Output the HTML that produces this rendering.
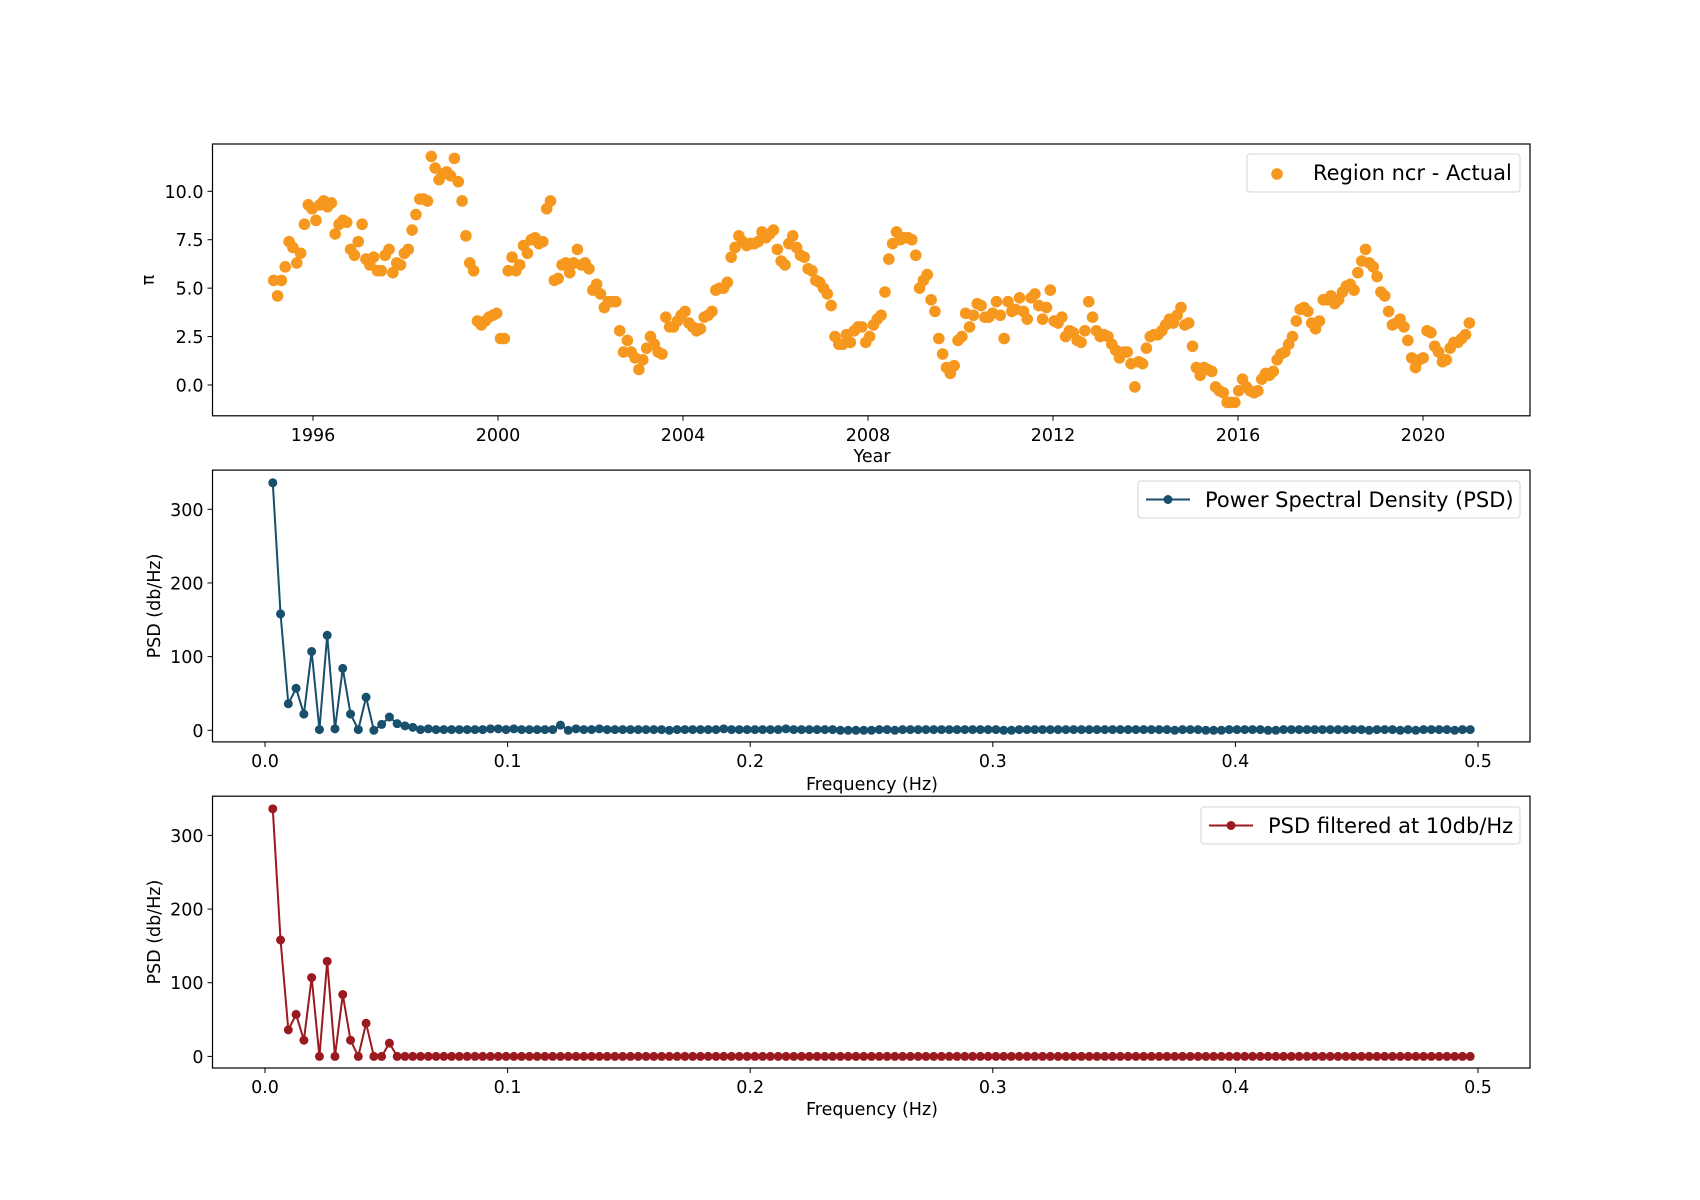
<!DOCTYPE html>
<html><head><meta charset="utf-8"><style>
body{margin:0;background:#fff}
svg{display:block;font-family:"DejaVu Sans","Liberation Sans",sans-serif}
</style></head><body>
<svg id="fig" width="1700" height="1200" viewBox="0 0 1700 1200" xmlns="http://www.w3.org/2000/svg"></svg>
<script>
const years=[1995,1996,1997,1998,1999,2000,2001,2002,2003,2004,2005,2006,2007,2008,2009,2010,2011,2012,2013,2014,2015,2016,2017,2018,2019,2020];
const inflation=[
5.4,4.6,5.4,6.1,7.4,7.1,6.3,6.8,8.3,9.3,9.1,8.5,
9.3,9.5,9.2,9.4,7.8,8.3,8.5,8.4,7.0,6.7,7.4,8.3,
6.5,6.2,6.6,5.9,5.9,6.7,7.0,5.8,6.3,6.2,6.8,7.0,
8.0,8.8,9.6,9.6,9.5,11.8,11.2,10.6,10.9,11.0,10.8,11.7,
10.5,9.5,7.7,6.3,5.9,3.3,3.1,3.3,3.5,3.6,3.7,2.4,
2.4,5.9,6.6,5.9,6.2,7.2,6.8,7.5,7.6,7.3,7.4,9.1,
9.5,5.4,5.5,6.2,6.3,5.8,6.3,7.0,6.2,6.3,6.0,4.9,
5.2,4.7,4.0,4.3,4.3,4.3,2.8,1.7,2.3,1.7,1.4,0.8,
1.3,1.9,2.5,2.1,1.7,1.6,3.5,3.0,3.0,3.3,3.6,3.8,
3.2,3.0,2.8,2.9,3.5,3.6,3.8,4.9,5.0,5.0,5.3,6.6,
7.1,7.7,7.4,7.2,7.3,7.3,7.4,7.9,7.6,7.8,8.0,7.0,
6.4,6.2,7.3,7.7,7.1,6.7,6.6,6.0,5.9,5.4,5.3,5.0,
4.7,4.1,2.5,2.1,2.1,2.6,2.2,2.8,3.0,3.0,2.2,2.5,
3.1,3.4,3.6,4.8,6.5,7.3,7.9,7.5,7.6,7.6,7.5,6.7,
5.0,5.4,5.7,4.4,3.8,2.4,1.6,0.9,0.6,1.0,2.3,2.5,
3.7,3.0,3.6,4.2,4.1,3.5,3.5,3.7,4.3,3.6,2.4,4.3,
3.8,3.9,4.5,3.8,3.4,4.5,4.7,4.1,3.4,4.0,4.9,3.3,
3.2,3.5,2.5,2.8,2.7,2.3,2.2,2.8,4.3,3.5,2.8,2.5,
2.6,2.5,2.1,1.8,1.4,1.7,1.7,1.1,-0.1,1.2,1.1,1.9,
2.5,2.6,2.6,2.8,3.1,3.4,3.2,3.6,4.0,3.1,3.2,2.0,
0.9,0.5,0.9,0.8,0.7,-0.1,-0.3,-0.4,-0.9,-0.9,-0.9,-0.3,
0.3,-0.1,-0.3,-0.4,-0.3,0.3,0.6,0.5,0.7,1.3,1.6,1.7,
2.1,2.5,3.3,3.9,4.0,3.8,3.2,2.9,3.3,4.4,4.4,4.6,
4.2,4.4,4.8,5.1,5.2,4.9,5.8,6.4,7.0,6.3,6.1,5.6,
4.8,4.6,3.8,3.1,3.2,3.4,3.0,2.3,1.4,0.9,1.3,1.4,
2.8,2.7,2.0,1.7,1.2,1.3,1.9,2.2,2.2,2.4,2.6,3.2];
const psd=[336,158,36,57,22,107,1,129,2,84,22,1,45,0,8,18,9,6,4,1,
2,1,1,1,1,1,1,1,2,2,1,2,1,1,1,1,1,7,0,2,
1,1,2,1,1,1,1,1,1,1,1,0,1,1,1,1,1,1,2,1,
1,1,1,1,1,1,2,1,1,1,1,1,1,0,0,0,0,0,1,1,
0,1,1,1,1,1,1,1,1,1,1,1,1,1,0,0,1,1,1,1,
1,1,1,1,1,1,1,1,1,1,1,1,1,1,1,1,0,1,1,1,
0,0,0,1,1,1,1,1,0,0,1,1,1,1,1,1,1,1,1,1,
1,0,1,1,1,0,1,0,1,1,1,1,0,1,1];
const psdFiltered=[336,158,36,57,22,107,0,129,0,84,22,0,45,0,0,18,0,0,0,0,
0,0,0,0,0,0,0,0,0,0,0,0,0,0,0,0,0,0,0,0,
0,0,0,0,0,0,0,0,0,0,0,0,0,0,0,0,0,0,0,0,
0,0,0,0,0,0,0,0,0,0,0,0,0,0,0,0,0,0,0,0,
0,0,0,0,0,0,0,0,0,0,0,0,0,0,0,0,0,0,0,0,
0,0,0,0,0,0,0,0,0,0,0,0,0,0,0,0,0,0,0,0,
0,0,0,0,0,0,0,0,0,0,0,0,0,0,0,0,0,0,0,0,
0,0,0,0,0,0,0,0,0,0,0,0,0,0,0];
const yearTicks=[1996,2000,2004,2008,2012,2016,2020];
const piTicks=[0.0,2.5,5.0,7.5,10.0];
const freqTicks=[0.0,0.1,0.2,0.3,0.4,0.5];
const psdTicks=[0,100,200,300];

const NS="http://www.w3.org/2000/svg";
const svg=document.getElementById('fig');
function el(t,a,p){const e=document.createElementNS(NS,t);for(const k in a)e.setAttribute(k,a[k]);(p||svg).appendChild(e);return e;}
const L=212.5,R=1530;
const FS=17.5;
const panels=[{top:144,bot:415.8},{top:470.1,bot:741.9},{top:796.2,bot:1068}];
const xYear=v=>313+(v-1996)*46.25;
const yPi=v=>385-v*19.37;
const xF=v=>265+v*2426;
const yP1=v=>730.3-v*0.7367;
const yP2=v=>1056.4-v*0.7367;

function frame(p,name){
  el('rect',{x:L,y:p.top,width:R-L,height:p.bot-p.top,fill:'none',stroke:'#000','stroke-width':1.2,});
}
function xticks(p,ticks,fx,fmt,name){
  const g=el('g',{});
  ticks.forEach(t=>{const x=fx(t);
    el('line',{x1:x,x2:x,y1:p.bot,y2:p.bot+5,stroke:'#000','stroke-width':1},g);
    const tx=el('text',{x:x,y:p.bot+25,'font-size':FS,'text-anchor':'middle'},g);tx.textContent=fmt(t);});
}
function yticks(ticks,fy,fmt,name){
  const g=el('g',{});
  ticks.forEach(t=>{const y=fy(t);
    el('line',{x1:L-5,x2:L,y1:y,y2:y,stroke:'#000','stroke-width':1},g);
    const tx=el('text',{x:L-9,y:y+6.5,'font-size':FS,'text-anchor':'end'},g);tx.textContent=fmt(t);});
}
function label(x,y,txt,rot,name){
  const t=el('text',{x:x,y:y,'font-size':FS,'text-anchor':'middle',});
  if(rot)t.setAttribute('transform','rotate(-90 '+x+' '+y+')');
  t.textContent=txt;
}
frame(panels[0],'inflation-axes');
xticks(panels[0],yearTicks,xYear,v=>String(v),'year-ticks');
yticks(piTicks,yPi,v=>v.toFixed(1),'pi-ticks');
label(872,462,'Year',false,'x-axis-title-year');
label(154,280,'π',true,'y-axis-title-pi');
const g1=el('g',{});
inflation.forEach((v,i)=>{
  const c=el('circle',{cx:xYear(1995.15+i/12.03),cy:yPi(v),r:5.8,fill:'#f7981e'},g1);
  
  
});
const lg1=el('g',{});
el('rect',{x:1247,y:154,width:273,height:38,rx:3,fill:'#fff',stroke:'#d6d6d6','stroke-width':1},lg1);
el('circle',{cx:1277,cy:174,r:5.8,fill:'#f7981e'},lg1);
let t=el('text',{x:1313,y:180,'font-size':21},lg1);t.textContent='Region ncr - Actual';

function psdPanel(p,data,fy,color,name,legendX,legendText,ly,xlabY){
  frame(p,name+'-axes');
  xticks(p,freqTicks,xF,v=>v.toFixed(1),name+'-x-ticks');
  yticks(psdTicks,fy,v=>String(v),name+'-y-ticks');
  label(872,xlabY,'Frequency (Hz)',false,name+'-x-axis-title');
  label(160,(p.top+p.bot)/2,'PSD (db/Hz)',true,name+'-y-axis-title');
  const g=el('g',{});
  const pts=data.map((v,i)=>[xF((i+1)/312),fy(v)]);
  el('polyline',{points:pts.map(q=>q.join(',')).join(' '),fill:'none',stroke:color,'stroke-width':2},g);
  pts.forEach(q=>{const c=el('circle',{cx:q[0],cy:q[1],r:4.5,fill:color},g);
    
    });
  const lg=el('g',{});
  el('rect',{x:legendX,y:ly,width:1520-legendX,height:37,rx:3,fill:'#fff',stroke:'#d6d6d6','stroke-width':1},lg);
  el('line',{x1:legendX+8,x2:legendX+52,y1:ly+18.5,y2:ly+18.5,stroke:color,'stroke-width':2},lg);
  el('circle',{cx:legendX+30,cy:ly+18.5,r:4.5,fill:color},lg);
  const tt=el('text',{x:legendX+67,y:ly+26,'font-size':21},lg);tt.textContent=legendText;
}
psdPanel(panels[1],psd,yP1,'#174f6d','psd',1138,'Power Spectral Density (PSD)',481,790);
psdPanel(panels[2],psdFiltered,yP2,'#9b1a1f','psd-filtered',1201,'PSD filtered at 10db/Hz',807,1115);
</script>
</body></html>
